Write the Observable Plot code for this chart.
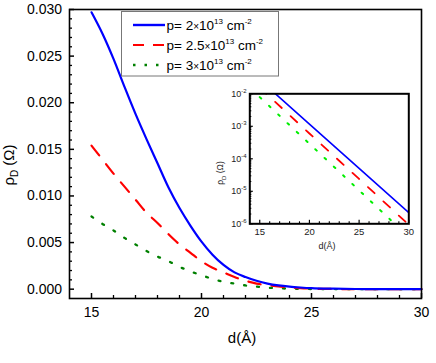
<!DOCTYPE html>
<html><head><meta charset="utf-8">
<script src="https://cdn.jsdelivr.net/npm/d3@7"></script>
<script src="https://cdn.jsdelivr.net/npm/@observablehq/plot@0.6"></script>
<style>
body{margin:0;background:#fff;}
#wrap{position:relative;width:436px;height:363px;font-family:"Liberation Sans",Arial,sans-serif;}
#wrap svg{position:absolute;}
</style></head><body><div id="wrap"></div>
<script>
// ---- main panel data (linear scale) ----
const dMain = [15,15.5,16,16.5,17,17.5,18,18.5,19,19.5,20,20.5,21,21.5,22,22.5,23,23.5,24,24.5,25,26,27,28,29,30];
const rhoP20 = [0.0297,0.0274,0.0247,0.0217,0.0188,0.0161,0.0135,0.0109,0.0087,0.0068,0.0051,0.0037,0.0026,0.0018,0.0013,0.0009,0.0006,0.0004,0.00027,0.00018,0.00011,0.00005,0.00002,0.00001,0,0];
const rhoP25 = [0.0154,0.0139,0.0124,0.0110,0.0096,0.0082,0.0071,0.0059,0.0048,0.0039,0.0030,0.0023,0.0018,0.0013,0.0009,0.0006,0.00043,0.0003,0.00018,0.0001,0.00006,0.00002,0.00001,0,0,0];
const rhoP30 = [0.0078,0.0070,0.0063,0.0055,0.0048,0.0041,0.0035,0.0030,0.0024,0.0019,0.0015,0.0011,0.0008,0.0006,0.0004,0.00027,0.00016,0.0001,0.00006,0.00004,0.00002,0.00001,0,0,0,0];
// ---- inset data (log scale) ----
const dInset = [15,20,25,30];
const insetP20 = [0.027,0.00117,0.000051,0.0000022];
const insetP25 = [0.0155,0.0006,0.000024,0.00000093];
const insetP30 = [0.0079,0.00029,0.0000107,0.00000039];
// ---- tick labels ----
const xTicks = [15,20,25,30];
const yTicks = [0,0.005,0.010,0.015,0.020,0.025,0.030];
const insetYExp = [-2,-3,-4,-5,-6];
const legendLabels = [["p= 2","13"],["p= 2.5","13"],["p= 3","13"]];

const font = '"Liberation Sans", Arial, sans-serif';
const rows = (d, v) => d.map((x, i) => ({d: x, v: v[i]}));

const xMinor = d3.range(15, 30.5, 1).filter(v => v % 5 !== 0);
const yMinor = d3.range(1, 30, 1).filter(v => v % 5 !== 0).map(v => v / 1000);

const main = Plot.plot({
  width: 436, height: 363,
  marginLeft: 69, marginRight: 15, marginTop: 9, marginBottom: 65,
  x: {domain: [14, 30]},
  y: {domain: [-0.001, 0.030]},
  style: {fontFamily: font, fontSize: "14px", color: "#000", background: "#fff", overflow: "visible"},
  marks: [
    Plot.axisX({ticks: xTicks, tickSize: 0, tickPadding: 9, label: null, tickFormat: d3.format("d")}),
    Plot.axisX({ticks: xTicks, tickSize: -5, fill: "none", label: null, strokeWidth: 1.5}),
    Plot.axisX({ticks: xMinor, tickSize: -3, fill: "none", label: null, strokeWidth: 1.3}),
    Plot.axisY({ticks: yTicks, tickSize: 0, tickPadding: 7.5, label: null, tickFormat: d3.format(".3f")}),
    Plot.axisY({ticks: yTicks, tickSize: -5, fill: "none", label: null, strokeWidth: 1.5}),
    Plot.axisY({ticks: yMinor, tickSize: -3, fill: "none", label: null, strokeWidth: 1.3}),
    Plot.line(rows(dMain, rhoP30), {x: "d", y: "v", stroke: "#008000", strokeWidth: 2.3, strokeDasharray: "2,11", curve: "monotone-x"}),
    Plot.line(rows(dMain, rhoP25), {x: "d", y: "v", stroke: "#ff0000", strokeWidth: 2.2, strokeDasharray: "12.5,11", curve: "monotone-x"}),
    Plot.line(rows(dMain, rhoP20), {x: "d", y: "v", stroke: "#0000ff", strokeWidth: 2.2, curve: "monotone-x"}),
    Plot.frame({stroke: "#000", strokeWidth: 1.6})
  ]
});

const insetMinor = [];
for (let e = -6; e < -2; e++) for (let m = 2; m <= 9; m++) insetMinor.push(m * 10 ** e);

const inset = Plot.plot({
  width: 220, height: 180,
  marginLeft: 49.3, marginRight: 11.7, marginTop: 13.3, marginBottom: 36.7,
  x: {domain: [14, 30]},
  y: {type: "log", domain: [1e-6, 1e-2]},
  style: {fontFamily: font, fontSize: "9.5px", color: "#000", background: "transparent", overflow: "visible"},
  marks: [
    Plot.axisX({ticks: xTicks, tickSize: 0, tickPadding: 4, label: null, tickFormat: d3.format("d"), fill: "#222"}),
    Plot.axisX({ticks: xTicks, tickSize: -3.5, fill: "none", label: null, strokeWidth: 1.2}),
    Plot.axisX({ticks: xMinor, tickSize: -2, fill: "none", label: null, strokeWidth: 1.1}),
    Plot.axisY({ticks: insetYExp.map(e => 10 ** e), tickSize: -3.5, fill: "none", label: null, strokeWidth: 1.2}),
    Plot.axisY({ticks: insetMinor, tickSize: -2, fill: "none", label: null, strokeWidth: 1.1}),
    Plot.line(rows(dInset, insetP30), {x: "d", y: "v", stroke: "#00ee00", strokeWidth: 2, strokeDasharray: "2,10.7", clip: true}),
    Plot.line(rows(dInset, insetP25), {x: "d", y: "v", stroke: "#ff0000", strokeWidth: 1.8, strokeDasharray: "9,12", clip: true}),
    Plot.line(rows(dInset, insetP20), {x: "d", y: "v", stroke: "#0000ff", strokeWidth: 1.6, clip: true}),
    Plot.frame({stroke: "#000", strokeWidth: 2})
  ]
});

// ---- main labels ----
const ms = d3.select(main);
ms.append("text").attr("x", 242).attr("y", 343).attr("text-anchor", "middle")
  .attr("font-family", font).attr("font-size", 15).attr("fill", "#000").text("d(Å)");
const yl = ms.append("text").attr("transform", "translate(14,165) rotate(-90)").attr("text-anchor", "middle")
  .attr("font-family", font).attr("font-size", 15).attr("fill", "#000");
yl.append("tspan").text("ρ");
yl.append("tspan").attr("font-size", 10).attr("dy", 4).text("D");
yl.append("tspan").attr("dy", -4).text(" (Ω)");

// ---- legend ----
const lg = ms.append("g");
lg.append("rect").attr("x", 121.5).attr("y", 11.5).attr("width", 157).attr("height", 64.5)
  .attr("fill", "#fff").attr("stroke", "#777").attr("stroke-width", 1);
const legStyles = [
  {stroke: "#0000ff", dash: null, w: 2.4},
  {stroke: "#ff0000", dash: "11,9", w: 2.2},
  {stroke: "#008000", dash: "2.5,9", w: 2.4}
];
legendLabels.forEach((lab, i) => {
  const cy = 25 + i * 20;
  const st = legStyles[i];
  const ln = lg.append("line").attr("x1", 133).attr("x2", 165).attr("y1", cy).attr("y2", cy)
    .attr("stroke", st.stroke).attr("stroke-width", st.w);
  if (st.dash) ln.attr("stroke-dasharray", st.dash);
  const t = lg.append("text").attr("x", 166.5).attr("y", cy + 5).attr("text-anchor", "start")
    .attr("font-family", font).attr("font-size", 13.5).attr("fill", "#000");
  t.append("tspan").text(lab[0]);
  t.append("tspan").attr("font-size", 10).text("×");
  t.append("tspan").text("10");
  t.append("tspan").attr("font-size", 8).attr("dy", -6).text(lab[1]);
  t.append("tspan").attr("dy", 6).text(" cm");
  t.append("tspan").attr("font-size", 8).attr("dy", -6).text("-2");
});

// ---- inset labels ----
const is = d3.select(inset);
const ys = inset.scale("y");
insetYExp.forEach(e => {
  const t = is.append("text").attr("x", 46.5).attr("y", ys.apply(10 ** e) + 3.3).attr("text-anchor", "end")
    .attr("font-family", font).attr("font-size", 9).attr("fill", "#222");
  t.append("tspan").text("10");
  t.append("tspan").attr("font-size", 6).attr("dy", -4).text(String(e));
});
is.append("text").attr("x", 127).attr("y", 169).attr("text-anchor", "middle")
  .attr("font-family", font).attr("font-size", 9).attr("fill", "#222").text("d(Å)");
const iyl = is.append("text").attr("transform", "translate(23,93) rotate(-90)").attr("text-anchor", "middle")
  .attr("font-family", font).attr("font-size", 8.5).attr("fill", "#222");
iyl.append("tspan").text("ρ");
iyl.append("tspan").attr("font-size", 6).attr("dy", 2.5).text("D");
iyl.append("tspan").attr("dy", -2.5).text(" (Ω)");

const wrap = document.getElementById("wrap");
main.style.left = "0px"; main.style.top = "0px";
inset.style.left = "200px"; inset.style.top = "80px";
wrap.appendChild(main);
wrap.appendChild(inset);
</script></body></html>
